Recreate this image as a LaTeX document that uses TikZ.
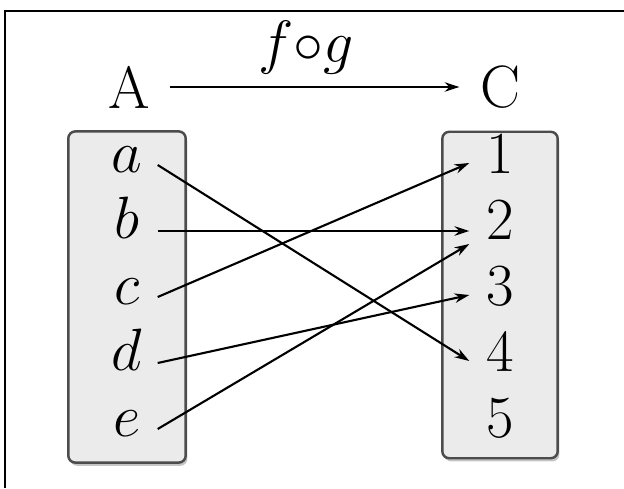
\RequirePackage{fix-cm}
\documentclass[tikz,border=0pt]{standalone}
\usepackage{amsmath}
\usepackage{tikz}
\usetikzlibrary{positioning,arrows.meta,fit,backgrounds,shadows}

\begin{document}
\begin{tikzpicture}[
  font=\fontsize{17}{20}\selectfont,
  node distance=0.66cm, on grid,
  elem/.style={inner sep=0pt, minimum width=0.6cm, text height=0.45em, text depth=0pt},
  num/.style={elem, text height=0.6em},
  head/.style={inner sep=0.2cm},
  setbox/.style={draw=black!70, line width=0.7pt, fill=black!8, rounded corners=2pt,
    drop shadow={shadow xshift=0.5pt, shadow yshift=-0.9pt, fill=black!45}},
  map/.style={-{Stealth[length=4.2pt,width=2.7pt]}, line width=0.6pt}
]
\useasboundingbox (0,0) rectangle (6.24,-4.88);
% frame
\draw[line width=0.8pt] (0.05,-4.88) |- (6.24,-0.11);

\node[head] (A) at (1.29,-0.87) {A};
\node[head] (C) at (5.00,-0.87) {C};
\draw[map] (A) -- node[above, pos=0.47] {$f{\circ}g$} (C);

% domain
\node[elem] (a) at (1.27,-1.65) {$a$};
\node[elem, below=of a] (b) {$b$};
\node[elem, below=of b] (c) {$c$};
\node[elem, below=of c] (d) {$d$};
\node[elem, below=of d] (e) {$e$};

% codomain
\node[num] (n1) at (5.00,-1.63) {$1$};
\node[num, below=of n1] (n2) {$2$};
\node[num, below=of n2] (n3) {$3$};
\node[num, below=of n3] (n4) {$4$};
\node[num, below=of n4] (n5) {$5$};

\begin{scope}[on background layer]
  \node[setbox, fit=(a)(e), inner xsep=0.28cm, inner ysep=0.25cm] (setA) {};
  \node[setbox, fit=(n1)(n5), inner xsep=0.27cm, inner ysep=0.2cm] (setC) {};
\end{scope}

\draw[map] (a.east) -- (n4.west);
\draw[map] (b.east) -- (b.east -| n2.west);
\draw[map] (c.east) -- (n1.west);
\draw[map] (d.east) -- (n3.west);
\draw[map] (e.east) -- ([yshift=-0.15cm]n2.west);
\end{tikzpicture}
\end{document}
